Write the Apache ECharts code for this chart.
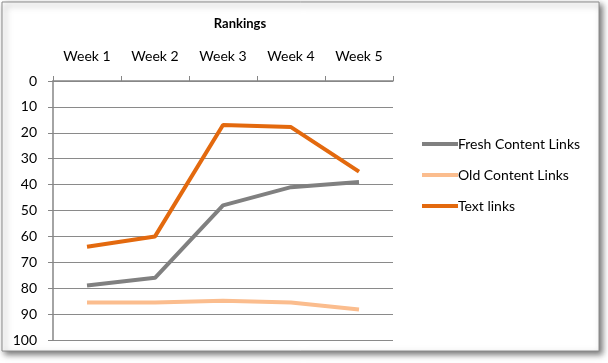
<!DOCTYPE html>
<html><head><meta charset="utf-8">
<script src="https://cdn.jsdelivr.net/npm/echarts@6/dist/echarts.min.js"></script>
<style>html,body{margin:0;padding:0;background:#fff;}#c{width:608px;height:363px;}</style>
</head><body><div id="c"></div>
<script>
const categories = ['Week 1','Week 2','Week 3','Week 4','Week 5'];
const freshContent = [79, 76, 48, 41, 39];
const oldContent = [85.5, 85.5, 84.8, 85.5, 88.2];
const textLinks = [64, 60, 17, 17.8, 35];
const yTicks = {min: 0, max: 100, interval: 10};

const chart = echarts.init(document.getElementById('c'));
const font = 'Lato, "Open Sans", sans-serif';
chart.setOption({
  animation: false,
  backgroundColor: '#fff',
  graphic: [{
    type: 'rect', shape: {x: 2, y: 2, width: 597, height: 349},
    style: {fill: '#fff', stroke: '#8c8c8c', lineWidth: 1, shadowBlur: 6, shadowOffsetX: 3, shadowOffsetY: 3, shadowColor: 'rgba(0,0,0,0.55)'},
    z: -10
  }],
  title: {text: 'Rankings', left: 235, top: 12, textAlign: 'center',
    textStyle: {fontFamily: font, fontSize: 13, fontWeight: 'bold', color: '#000'}},
  legend: {
    orient: 'vertical', left: 417, top: 132, itemWidth: 36, itemHeight: 4, itemGap: 17,
    icon: 'rect',
    textStyle: {fontFamily: font, fontSize: 14, color: '#000', padding: [0,0,0,-5]},
    data: ['Fresh Content Links','Old Content Links','Text links']
  },
  grid: {left: 53, top: 81, right: 215, bottom: 23, containLabel: false},
  xAxis: {
    type: 'category', position: 'top', data: categories, boundaryGap: true,
    axisLine: {lineStyle: {color: '#868686', width: 1.5}},
    axisTick: {show: true, length: 5, lineStyle: {color: '#868686'}},
    axisLabel: {fontFamily: font, fontSize: 14, color: '#000', margin: 18}
  },
  yAxis: {
    type: 'value', inverse: true, min: yTicks.min, max: yTicks.max, interval: yTicks.interval,
    axisLine: {show: true, lineStyle: {color: '#868686', width: 1.5}},
    axisTick: {show: true, length: 5, lineStyle: {color: '#868686'}},
    axisLabel: {fontFamily: font, fontSize: 14, color: '#000', margin: 16},
    splitLine: {lineStyle: {color: '#8a8a8a', width: 1.2}}
  },
  series: [
    {name: 'Fresh Content Links', type: 'line', data: freshContent, symbol: 'none',
     lineStyle: {color: '#808080', width: 4}, itemStyle: {color: '#808080'}},
    {name: 'Old Content Links', type: 'line', data: oldContent, symbol: 'none',
     lineStyle: {color: '#fbbd8e', width: 4}, itemStyle: {color: '#fbbd8e'}},
    {name: 'Text links', type: 'line', data: textLinks, symbol: 'none',
     lineStyle: {color: '#e3690e', width: 4}, itemStyle: {color: '#e3690e'}}
  ]
});
</script></body></html>
